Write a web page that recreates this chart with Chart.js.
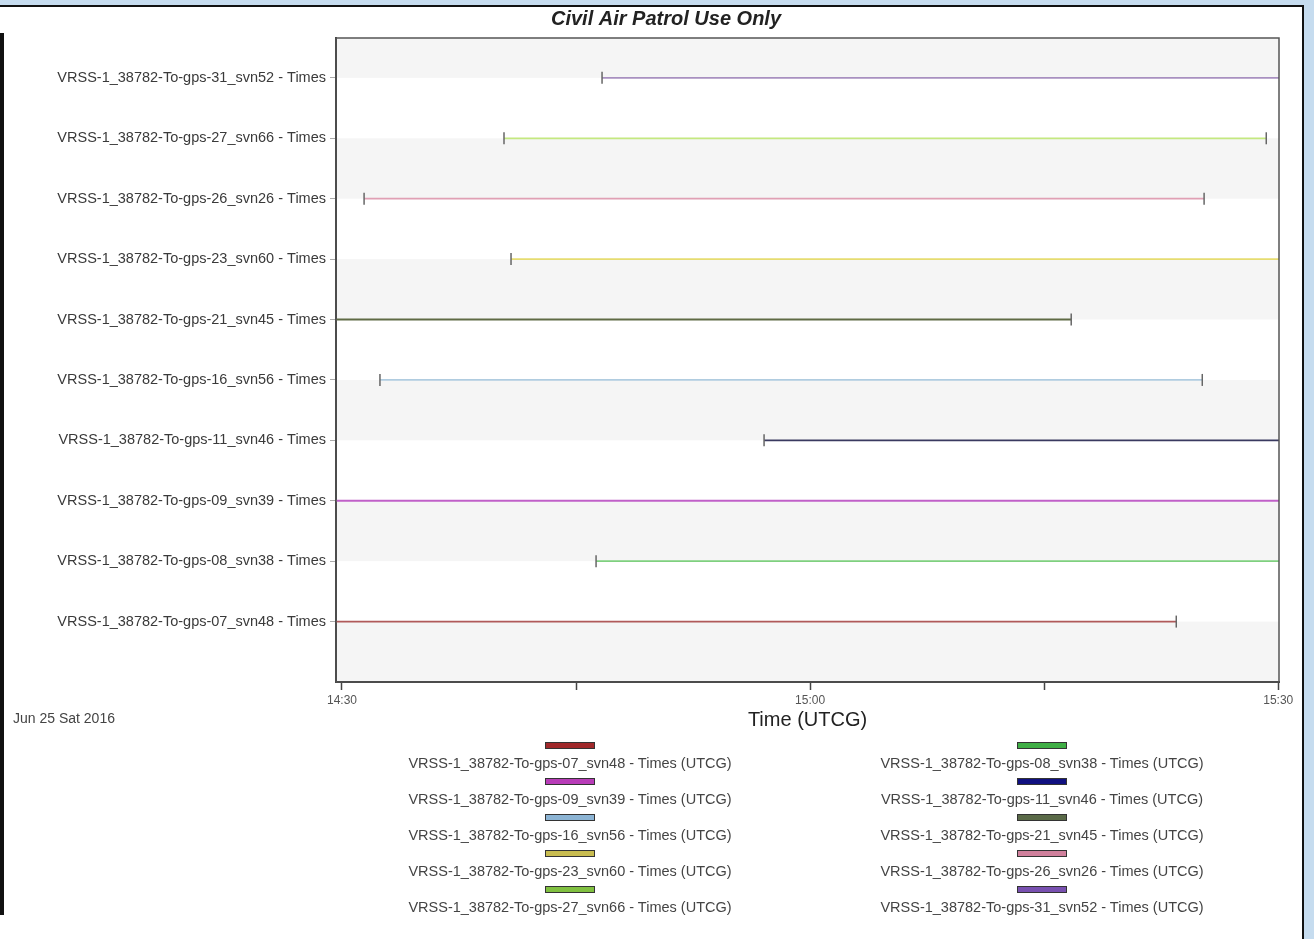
<!DOCTYPE html>
<html>
<head>
<meta charset="utf-8">
<title>Civil Air Patrol Use Only</title>
<script src="https://cdn.jsdelivr.net/npm/chart.js@4/dist/chart.umd.min.js"></script>
<style>
      html, body { margin: 0; padding: 0; background: #fff; }
      #wrap { position: relative; width: 1314px; height: 939px; overflow: hidden; font-family: "Liberation Sans", Arial, sans-serif; }
      #chart { position: absolute; left: 0; top: 0; }
      .frame { position: absolute; }
      #legend {
            position: absolute; left: 334px; top: 742px; width: 944px;
            display: grid; grid-template-columns: 1fr 1fr; row-gap: 6px;
      }
      .item { text-align: center; height: 30px; }
      .swatch { width: 48px; height: 5px; border: 1px solid #333; margin: 0 auto 5px auto; }
      .label { font-size: 14.5px; line-height: 18px; color: #444; white-space: nowrap; }
</style>
</head>
<body>
<div id="wrap">
      <canvas id="chart" width="1314" height="939"></canvas>
      <div id="legend"></div>
      <div class="frame" style="left:0;top:0;width:1314px;height:5px;background:#c6dcef"></div>
      <div class="frame" style="left:0;top:5px;width:1304px;height:2px;background:#111"></div>
      <div class="frame" style="left:1302px;top:5px;width:2px;height:934px;background:#111"></div>
      <div class="frame" style="left:1304px;top:0;width:10px;height:939px;background:#c6dcef"></div>
      <div class="frame" style="left:0;top:33px;width:4px;height:882px;background:#111"></div>
</div>
<script>
// rows, bottom to top
const rowLabels = [
      'VRSS-1_38782-To-gps-07_svn48 - Times',
      'VRSS-1_38782-To-gps-08_svn38 - Times',
      'VRSS-1_38782-To-gps-09_svn39 - Times',
      'VRSS-1_38782-To-gps-11_svn46 - Times',
      'VRSS-1_38782-To-gps-16_svn56 - Times',
      'VRSS-1_38782-To-gps-21_svn45 - Times',
      'VRSS-1_38782-To-gps-23_svn60 - Times',
      'VRSS-1_38782-To-gps-26_svn26 - Times',
      'VRSS-1_38782-To-gps-27_svn66 - Times',
      'VRSS-1_38782-To-gps-31_svn52 - Times'
];
const startTimes = ['14:20:00', '14:46:17', '14:20:00', '14:57:03', '14:32:26', '14:20:00', '14:40:50', '14:31:25', '14:40:23', '14:46:40'];
const endTimes = ['15:23:28', '15:40:00', '15:40:00', '15:40:00', '15:25:08', '15:16:44', '15:40:00', '15:25:15', '15:29:14', '15:40:00'];
const xTicks = ['14:30', '14:45', '15:00', '15:15', '15:30'];
const xRange = ['14:29:37', '15:30:03'];
const dateLabel = 'Jun 25 Sat 2016';

const lineColors = ['#b05a5a', '#7fd07f', '#c060c8', '#3a3a60', '#b0cce0', '#5f6a45', '#e6dc70', '#e0a0b4', '#c4e880', '#a890c0'];
const legendColors = ['#a0282a', '#3fae45', '#b83cb8', '#101080', '#8cb4d4', '#5a6a48', '#c8bc50', '#d0809c', '#80c040', '#7850b0'];

function toMin(s)
{
      const p = s.split(':').map(Number);
      return p[0] * 60 + p[1] + (p[2] || 0) / 60;
}

function fmt(v)
{
      const h = Math.floor(v / 60);
      const m = Math.round(v - h * 60);
      return h + ':' + (m < 10 ? '0' : '') + m;
}

const datasets = rowLabels.map(function (name, i)
{
      return {
            label: name + ' (UTCG)',
            data: [{ x: toMin(startTimes[i]), y: i }, { x: toMin(endTimes[i]), y: i }],
            showLine: true,
            borderColor: lineColors[i],
            borderWidth: 1.8,
            pointStyle: 'line',
            rotation: 90,
            pointRadius: 6,
            pointBorderWidth: 1.5,
            pointBorderColor: '#666',
            pointBackgroundColor: '#666',
            clip: 0
      };
});

const bands = {
      id: 'bands',
      beforeDraw: function (chart)
      {
            const a = chart.chartArea, y = chart.scales.y, ctx = chart.ctx;
            ctx.save();
            ctx.fillStyle = '#f5f5f5';
            for (let k = -1; k <= rowLabels.length; k += 2)
            {
                  const top = Math.max(y.getPixelForValue(k + 1), a.top);
                  const bot = Math.min(y.getPixelForValue(k), a.bottom);
                  if (bot > top) ctx.fillRect(a.left, top, a.right - a.left, bot - top);
            }
            ctx.restore();
      },
      afterDatasetsDraw: function (chart)
      {
            const a = chart.chartArea, ctx = chart.ctx;
            ctx.save();
            ctx.strokeStyle = '#555';
            ctx.lineWidth = 1.5;
            ctx.strokeRect(a.left, a.top, a.right - a.left, a.bottom - a.top);
            ctx.restore();
      },
      afterDraw: function (chart)
      {
            const ctx = chart.ctx;
            ctx.save();
            ctx.fillStyle = '#222';
            ctx.textAlign = 'center';
            ctx.textBaseline = 'middle';
            ctx.font = 'italic bold 20px "Liberation Sans", Arial, sans-serif';
            ctx.fillText('Civil Air Patrol Use Only', 666, 19);
            ctx.fillStyle = '#444';
            ctx.textAlign = 'left';
            ctx.font = '14px "Liberation Sans", Arial, sans-serif';
            ctx.fillText(dateLabel, 13, 719);
            ctx.restore();
      }
};

new Chart(document.getElementById('chart'), {
      type: 'scatter',
      data: { datasets: datasets },
      plugins: [bands],
      options: {
            responsive: false,
            animation: false,
            layout: { padding: { top: 38, left: 0, right: 35, bottom: 197 } },
            plugins: {
                  legend: { display: false },
                  tooltip: { enabled: false },
                  title: { display: false }
            },
            scales: {
                  x: {
                        type: 'linear',
                        min: toMin(xRange[0]),
                        max: toMin(xRange[1]),
                        afterBuildTicks: function (s)
                        {
                              s.ticks = xTicks.map(function (t) { return { value: toMin(t) }; });
                        },
                        afterFit: function (s) { s.height = 60; },
                        ticks: {
                              callback: function (v) { return (Math.round(v) % 30 === 0) ? fmt(v) : ''; },
                              font: { family: '"Liberation Sans", Arial, sans-serif', size: 12 },
                              color: '#555',
                              padding: 3,
                              maxRotation: 0,
                              autoSkip: false
                        },
                        grid: { drawOnChartArea: false, tickLength: 8, tickColor: '#444', tickWidth: 1.5 },
                        border: { color: '#333', width: 2 },
                        title: {
                              display: true,
                              text: 'Time (UTCG)',
                              color: '#222',
                              font: { family: '"Liberation Sans", Arial, sans-serif', size: 20 },
                              padding: { top: 0, bottom: 10 }
                        }
                  },
                  y: {
                        type: 'linear',
                        min: -1,
                        max: 9.66,
                        afterBuildTicks: function (s)
                        {
                              s.ticks = rowLabels.map(function (_, i) { return { value: i }; });
                        },
                        afterFit: function (s) { s.width = 336; },
                        ticks: {
                              callback: function (v) { return rowLabels[v]; },
                              font: { family: '"Liberation Sans", Arial, sans-serif', size: 14.5 },
                              color: '#3a3a3a',
                              padding: 4,
                              autoSkip: false
                        },
                        grid: { drawOnChartArea: false, tickLength: 6, tickColor: '#aaa' },
                        border: { color: '#333', width: 2 }
                  }
            }
      }
});

const legend = document.getElementById('legend');
rowLabels.forEach(function (name, i)
{
      const item = document.createElement('div');
      item.className = 'item';
      const sw = document.createElement('div');
      sw.className = 'swatch';
      sw.style.background = legendColors[i];
      const lb = document.createElement('div');
      lb.className = 'label';
      lb.textContent = name + ' (UTCG)';
      item.appendChild(sw);
      item.appendChild(lb);
      legend.appendChild(item);
});
</script>
</body>
</html>
